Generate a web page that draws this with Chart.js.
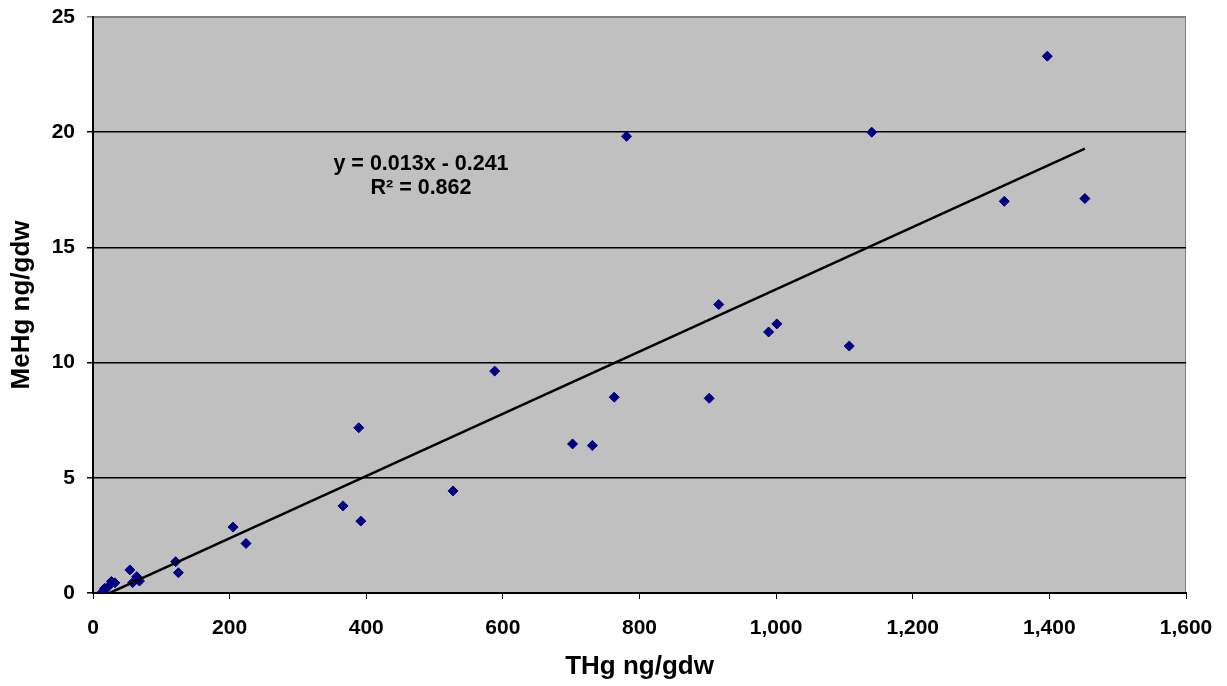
<!DOCTYPE html>
<html>
<head>
<meta charset="utf-8">
<script src="https://cdn.jsdelivr.net/npm/chart.js@4"></script>
<style>
  html, body { margin: 0; padding: 0; background: #fff; }
  #wrap { width: 1227px; height: 686px; }
</style>
</head>
<body>
<div id="wrap"><canvas id="mehgChart" width="1227" height="686"></canvas></div>
<script>
// values
const thgValues = [14, 17, 22, 27, 32, 54, 58, 64, 68, 121, 125, 205, 224, 366, 389, 392, 527, 588, 702, 731, 763, 781, 902, 916, 989, 1001, 1107, 1140, 1334, 1397, 1452];
const mehgValues = [0.05, 0.2, 0.27, 0.5, 0.44, 1.0, 0.45, 0.71, 0.52, 1.36, 0.88, 2.86, 2.15, 3.78, 7.17, 3.12, 4.43, 9.63, 6.47, 6.40, 8.50, 19.82, 8.45, 12.52, 11.33, 11.68, 10.72, 20.0, 17.0, 23.3, 17.12];
const xTicks = [0, 200, 400, 600, 800, 1000, 1200, 1400, 1600];
const yTicks = [0, 5, 10, 15, 20, 25];
const equationLines = ['y = 0.013x - 0.241', 'R\u00b2 = 0.862'];

const points = thgValues.map((x, i) => ({ x: x, y: mehgValues[i] }));

// least squares trend line over the data range
const n = points.length;
const mx = thgValues.reduce((a, b) => a + b, 0) / n;
const my = mehgValues.reduce((a, b) => a + b, 0) / n;
let sxy = 0, sxx = 0;
points.forEach(p => { sxy += (p.x - mx) * (p.y - my); sxx += (p.x - mx) * (p.x - mx); });
const slope = sxy / sxx;
const intercept = my - slope * mx;
const xMin = Math.min(...thgValues), xMax = Math.max(...thgValues);
const trend = [{ x: xMin, y: slope * xMin + intercept }, { x: xMax, y: slope * xMax + intercept }];

const font = 'Liberation Sans, Arial, sans-serif';

const plotBg = {
    id: 'plotBg',
    beforeDraw(chart) {
        const { ctx, chartArea: a } = chart;
        ctx.save();
        ctx.fillStyle = '#c0c0c0';
        ctx.fillRect(a.left, a.top, a.right - a.left, a.bottom - a.top);
        ctx.strokeStyle = '#808080';
        ctx.lineWidth = 1;
        ctx.strokeRect(a.left + 0.5, a.top + 0.5, a.right - a.left - 1, a.bottom - a.top - 1);
        ctx.restore();
    },
    afterDatasetsDraw(chart) {
        const { ctx, chartArea: a } = chart;
        ctx.save();
        ctx.fillStyle = '#000';
        ctx.font = 'bold 21.5px ' + font;
        ctx.textAlign = 'center';
        ctx.textBaseline = 'middle';
        const cx = a.left + 328;
        ctx.fillText(equationLines[0], cx, a.top + 147);
        ctx.fillText(equationLines[1], cx, a.top + 171);
        ctx.restore();
    }
};

new Chart(document.getElementById('mehgChart'), {
    type: 'scatter',
    data: {
        datasets: [
            {
                type: 'line',
                label: 'Trend',
                data: trend,
                borderColor: '#000',
                borderWidth: 2.5,
                pointRadius: 0,
                fill: false
            },
            {
                label: 'MeHg',
                data: points,
                backgroundColor: '#000080',
                borderColor: '#000080',
                pointStyle: 'rectRot',
                pointRadius: 5,
                pointHoverRadius: 5
            }
        ]
    },
    options: {
        responsive: false,
        animation: false,
        layout: { padding: { left: 0, top: 17, right: 41, bottom: 0 } },
        plugins: { legend: { display: false }, tooltip: { enabled: false } },
        scales: {
            x: {
                type: 'linear',
                min: 0, max: 1600,
                afterBuildTicks: s => { s.ticks = xTicks.map(v => ({ value: v })); },
                afterFit: s => { s.height = 93; s.paddingLeft = 0; s.paddingRight = 0; },
                grid: { drawOnChartArea: false, drawTicks: true, tickLength: 6, color: '#000' },
                border: { color: '#000', width: 2 },
                ticks: {
                    color: '#000', padding: 17,
                    font: { family: font, size: 21, weight: 'bold' },
                    callback: v => v.toLocaleString('en-US')
                },
                title: {
                    display: true, text: 'THg ng/gdw', color: '#000',
                    font: { family: font, size: 26, weight: 'bold' },
                    padding: { top: 0, bottom: 4 }
                }
            },
            y: {
                min: 0, max: 25,
                afterBuildTicks: s => { s.ticks = yTicks.map(v => ({ value: v })); },
                afterFit: s => { s.width = 93; s.paddingTop = 0; s.paddingBottom = 0; },
                grid: {
                    drawTicks: true, tickLength: 6, lineWidth: 1.5,
                    color: c => (c.tick && c.tick.value === 25 ? '#808080' : '#000')
                },
                border: { color: '#000', width: 2 },
                ticks: {
                    color: '#000', padding: 12,
                    font: { family: font, size: 21, weight: 'bold' }
                },
                title: {
                    display: true, text: 'MeHg ng/gdw', color: '#000',
                    font: { family: font, size: 26, weight: 'bold' },
                    padding: { top: 6, bottom: 0 }
                }
            }
        }
    },
    plugins: [plotBg]
});
</script>
</body>
</html>
